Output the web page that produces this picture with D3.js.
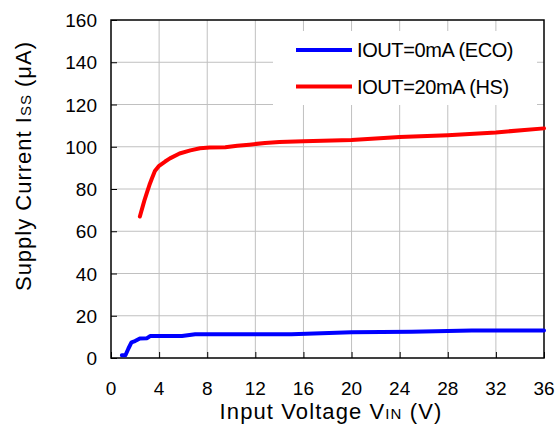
<!DOCTYPE html>
<html>
<head>
<meta charset="utf-8">
<script src="https://cdn.jsdelivr.net/npm/d3@7"></script>
<style>
  body { margin: 0; background: #fff; }
  svg { display: block; font-family: "Liberation Sans", Arial, sans-serif; }
</style>
</head>
<body>
<svg id="chart" width="559" height="432"></svg>
<script>
// data
var ecoVin = [0.9, 1.2, 1.45, 1.7, 2.0, 2.4, 3.0, 3.25, 5.9, 7.0, 15, 20, 25, 30, 36];
var ecoIss = [1.3, 1.3, 4.5, 7.4, 8.0, 9.2, 9.4, 10.4, 10.4, 11.2, 11.3, 12.2, 12.4, 13.0, 13.0];
var hsVin = [2.4, 2.5, 2.65, 2.8, 3.0, 3.2, 3.4, 3.65, 4.0, 4.5, 4.9, 5.7, 6.6, 7.4, 8.2, 9.5, 10.5, 11.5, 12.8, 14, 16, 20, 24, 28, 32, 36];
var hsIss = [67, 69, 72, 75, 78.5, 82, 85, 88.5, 91, 93, 94.5, 96.8, 98.3, 99.3, 99.6, 99.8, 100.5, 101, 101.8, 102.3, 102.6, 103.2, 104.6, 105.5, 106.8, 108.7];
var seriesNames = ["IOUT=0mA (ECO)", "IOUT=20mA (HS)"];
var seriesColors = ["#0000ff", "#ff0000"];
var xTicks = [0, 4, 8, 12, 16, 20, 24, 28, 32, 36];
var yTicks = [0, 20, 40, 60, 80, 100, 120, 140, 160];

var PLOT = { left: 111, right: 544, top: 20, bottom: 358 };

function main() {
    var svg = d3.select("#chart");
    var x = d3.scaleLinear().domain([0, 36]).range([PLOT.left, PLOT.right]);
    var y = d3.scaleLinear().domain([0, 160]).range([PLOT.bottom, PLOT.top]);

    // grid
    svg.append("g").selectAll("line.vg")
        .data(xTicks.slice(1, -1)).enter().append("line")
        .attr("x1", function(d) { return x(d); }).attr("x2", function(d) { return x(d); })
        .attr("y1", PLOT.top).attr("y2", PLOT.bottom)
        .attr("stroke", "#c0c0c0").attr("stroke-width", 1);
    svg.append("g").selectAll("line.hg")
        .data(yTicks.slice(1, -1)).enter().append("line")
        .attr("y1", function(d) { return y(d); }).attr("y2", function(d) { return y(d); })
        .attr("x1", PLOT.left).attr("x2", PLOT.right)
        .attr("stroke", "#c0c0c0").attr("stroke-width", 1);

    // legend background hides grid
    svg.append("rect")
        .attr("x", 273).attr("y", 31).attr("width", 264).attr("height", 74)
        .attr("fill", "#fff");

    // axes with inward ticks
    var xAxis = svg.append("g")
        .attr("transform", "translate(0," + PLOT.bottom + ")")
        .call(d3.axisTop(x).tickValues(xTicks).tickSize(6).tickFormat(""));
    var yAxis = svg.append("g")
        .attr("transform", "translate(" + PLOT.left + ",0)")
        .call(d3.axisRight(y).tickValues(yTicks).tickSize(6).tickFormat(""));
    [xAxis, yAxis].forEach(function(a) {
        a.select(".domain").remove();
        a.selectAll("line").attr("stroke", "#000");
    });

    // tick labels
    svg.append("g").selectAll("text")
        .data(xTicks).enter().append("text")
        .attr("x", function(d) { return x(d); })
        .attr("y", 395)
        .attr("text-anchor", "middle")
        .attr("font-size", 19)
        .text(function(d) { return d; });
    svg.append("g").selectAll("text")
        .data(yTicks).enter().append("text")
        .attr("x", 97)
        .attr("y", function(d) { return y(d) + 7; })
        .attr("text-anchor", "end")
        .attr("font-size", 19)
        .text(function(d) { return d; });

    // frame
    svg.append("rect")
        .attr("x", PLOT.left).attr("y", PLOT.top)
        .attr("width", PLOT.right - PLOT.left).attr("height", PLOT.bottom - PLOT.top)
        .attr("fill", "none").attr("stroke", "#000").attr("stroke-width", 1.5);

    // curves
    var line = d3.line()
        .x(function(d) { return x(d[0]); })
        .y(function(d) { return y(d[1]); });
    var series = [d3.zip(ecoVin, ecoIss), d3.zip(hsVin, hsIss)];
    svg.append("g").selectAll("path")
        .data(series).enter().append("path")
        .attr("d", line)
        .attr("fill", "none")
        .attr("stroke", function(d, i) { return seriesColors[i]; })
        .attr("stroke-width", 4)
        .attr("stroke-linejoin", "round")
        .attr("stroke-linecap", "round");

    // legend
    var leg = svg.append("g").selectAll("g")
        .data(seriesNames).enter().append("g")
        .attr("transform", function(d, i) { return "translate(0," + (50 + i * 36.5) + ")"; });
    leg.append("line")
        .attr("x1", 296).attr("x2", 352)
        .attr("stroke", function(d, i) { return seriesColors[i]; })
        .attr("stroke-width", 4);
    leg.append("text")
        .attr("x", 357).attr("y", 7)
        .attr("font-size", 20)
        .attr("letter-spacing", -0.4)
        .text(function(d) { return d; });

    // axis titles
    var xt = svg.append("text")
        .attr("x", 331).attr("y", 419)
        .attr("text-anchor", "middle")
        .attr("font-size", 22)
        .attr("letter-spacing", 1.1);
    xt.append("tspan").text("Input Voltage V");
    xt.append("tspan").attr("font-size", 15).text("IN");
    xt.append("tspan").text(" (V)");

    var yt = svg.append("text")
        .attr("transform", "translate(31,166) rotate(-90)")
        .attr("text-anchor", "middle")
        .attr("font-size", 22)
        .attr("letter-spacing", 1.0);
    yt.append("tspan").text("Supply Current I");
    yt.append("tspan").attr("font-size", 15).text("SS");
    yt.append("tspan").text(" (\u03bcA)");
}

main();
</script>
</body>
</html>
